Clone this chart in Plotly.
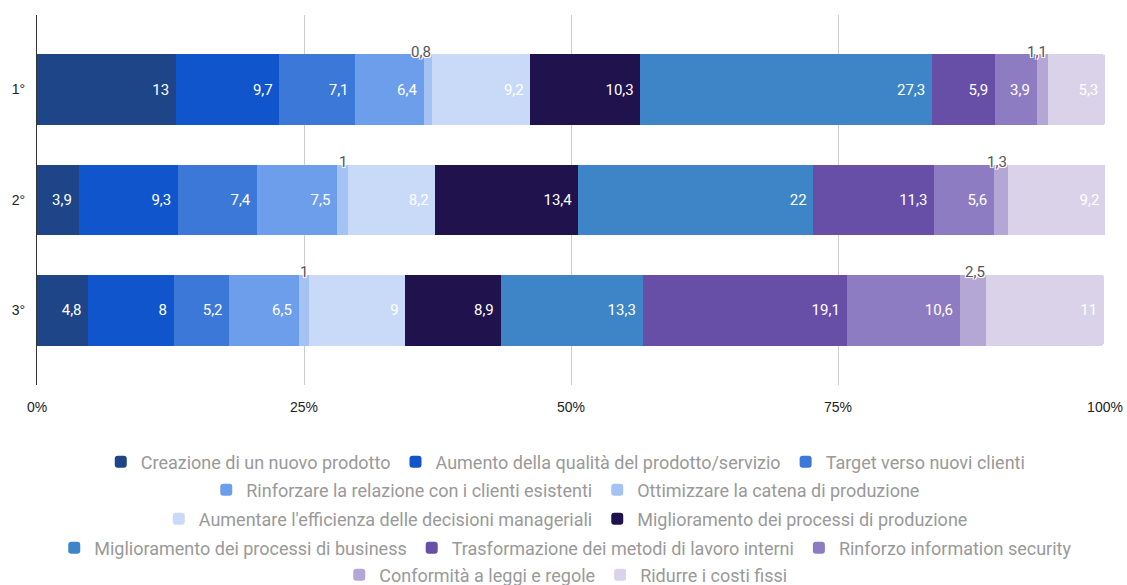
import plotly.graph_objects as go

# Rankings (rows) and the share of answers for each objective, in percent
rankings = ["1°", "2°", "3°"]

objectives = [
    "Creazione di un nuovo prodotto",
    "Aumento della qualità del prodotto/servizio",
    "Target verso nuovi clienti",
    "Rinforzare la relazione con i clienti esistenti",
    "Ottimizzare la catena di produzione",
    "Aumentare l'efficienza delle decisioni manageriali",
    "Miglioramento dei processi di produzione",
    "Miglioramento dei processi di business",
    "Trasformazione dei metodi di lavoro interni",
    "Rinforzo information security",
    "Conformità a leggi e regole",
    "Ridurre i costi fissi",
]

# values[i] = percentages of objective i for rankings 1°, 2°, 3°
values = [
    [13.0, 3.9, 4.8],
    [9.7, 9.3, 8.0],
    [7.1, 7.4, 5.2],
    [6.4, 7.5, 6.5],
    [0.8, 1.0, 1.0],
    [9.2, 8.2, 9.0],
    [10.3, 13.4, 8.9],
    [27.3, 22.0, 13.3],
    [5.9, 11.3, 19.1],
    [3.9, 5.6, 10.6],
    [1.1, 1.3, 2.5],
    [5.3, 9.2, 11.0],
]

colors = [
    "#1d4587", "#1155cc", "#3c78d8", "#6d9eeb", "#a4c2f4", "#c9daf8",
    "#20124d", "#3d85c6", "#674ea7", "#8e7cc3", "#b4a7d6", "#d9d2e9",
]

# legend rows (indices of objectives), each row centred on its own
legend_rows = [[0, 1, 2], [3, 4], [5, 6], [7, 8, 9], [10, 11]]
legend_row_y = [0.2103, 0.1624, 0.1128, 0.0632, 0.0170]

SMALL = 3.0  # segments narrower than this get their label above the bar


def fmt(v):
    s = ("%g" % v)
    return s.replace(".", ",")


legend_of = {}
for r, row in enumerate(legend_rows):
    for idx in row:
        legend_of[idx] = "legend" if r == 0 else "legend%d" % (r + 1)

fig = go.Figure()
for i, name in enumerate(objectives):
    texts = [fmt(v) + "\u00a0" if v >= SMALL else "" for v in values[i]]
    fig.add_trace(go.Bar(
        name=name,
        y=rankings,
        x=values[i],
        orientation="h",
        marker=dict(color=colors[i], line=dict(width=0)),
        text=texts,
        textposition="inside",
        insidetextanchor="end",
        textangle=0,
        constraintext="none",
        textfont=dict(family="Roboto", size=15, color="#ffffff"),
        legend=legend_of[i],
        hoverinfo="skip",
    ))

# labels for thin segments, placed above the bar at the segment's end
halo = "-1px -1px 0 #fff, 1px -1px 0 #fff, -1px 1px 0 #fff, 1px 1px 0 #fff, 0 0 2px #fff"
for r, cat in enumerate(rankings):
    cum = 0.0
    for i in range(len(objectives)):
        v = values[i][r]
        cum += v
        if v < SMALL:
            fig.add_annotation(
                x=cum, y=cat, xref="x", yref="y",
                text=fmt(v), showarrow=False,
                xanchor="right", yanchor="middle",
                xshift=1, yshift=38,
                font=dict(family="Roboto", size=15, color="#555555", shadow=halo),
            )

legend_common = dict(
    orientation="h",
    traceorder="normal",
    xref="container", x=0.502, xanchor="center",
    yref="container", yanchor="middle",
    font=dict(family="Roboto", size=18, color="#999999"),
    bgcolor="rgba(0,0,0,0)",
    itemclick=False, itemdoubleclick=False,
)
legends = {}
for r, yv in enumerate(legend_row_y):
    key = "legend" if r == 0 else "legend%d" % (r + 1)
    legends[key] = dict(legend_common, y=yv)

fig.update_layout(
    barmode="stack",
    bargap=0.36,
    barcornerradius=3,
    width=1127,
    height=585,
    margin=dict(l=37, r=22, t=15, b=200, autoexpand=False),
    plot_bgcolor="#ffffff",
    paper_bgcolor="#ffffff",
    showlegend=True,
    **legends,
)

fig.update_xaxes(
    range=[0, 100],
    tickvals=[0, 25, 50, 75, 100],
    ticktext=["0%", "25%", "50%", "75%", "100%"],
    showgrid=True, gridcolor="#cccccc", gridwidth=1,
    zeroline=False, showline=False, automargin=False,
    ticks="", ticklabelstandoff=12,
    tickfont=dict(family="Liberation Sans", size=14, color="#222222"),
    fixedrange=True,
)
fig.update_yaxes(
    categoryorder="array", categoryarray=rankings,
    range=[2.675, -0.675],
    showgrid=False, zeroline=False, automargin=False,
    showline=True, linecolor="#333333", linewidth=1,
    ticks="", ticklabelstandoff=8,
    tickfont=dict(family="Liberation Sans", size=14, color="#222222"),
    fixedrange=True,
)

fig.write_html("out.html", config={"displayModeBar": False})
